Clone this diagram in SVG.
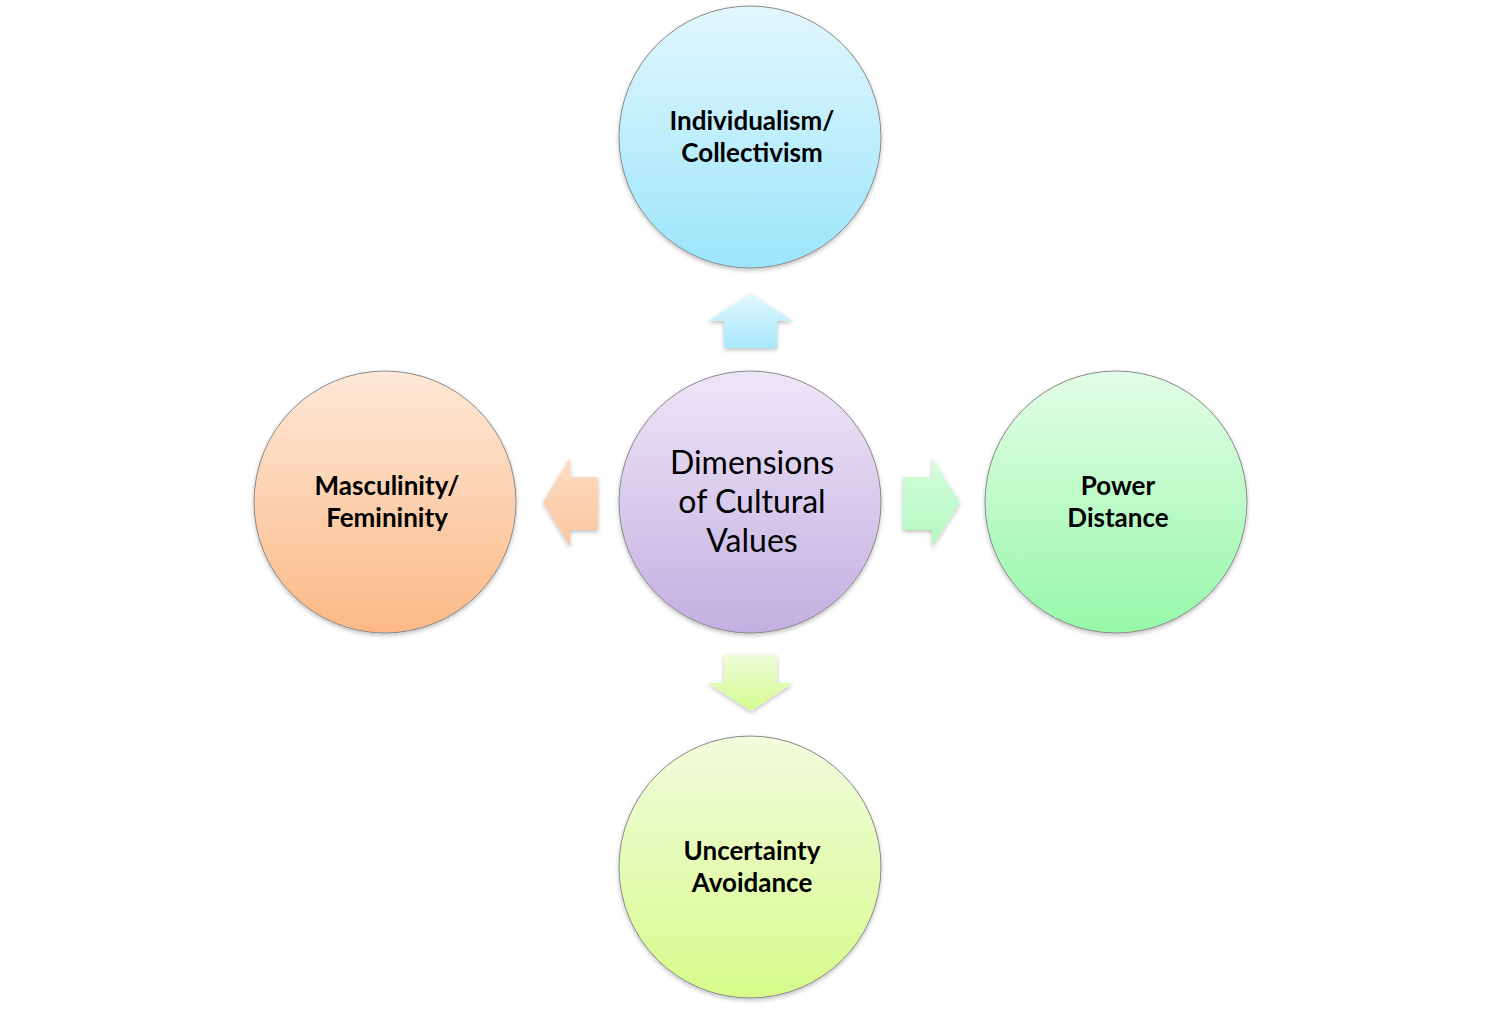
<svg xmlns="http://www.w3.org/2000/svg" width="1502" height="1010" viewBox="0 0 1502 1010">
<defs>
<linearGradient id="gBlue" x1="0" y1="0" x2="0" y2="1"><stop offset="0" stop-color="#e2f7fd"/><stop offset="1" stop-color="#9be5fb"/></linearGradient>
<linearGradient id="gPurple" x1="0" y1="0" x2="0" y2="1"><stop offset="0" stop-color="#ede6f7"/><stop offset="1" stop-color="#c4afe2"/></linearGradient>
<linearGradient id="gOrange" x1="0" y1="0" x2="0" y2="1"><stop offset="0" stop-color="#fee8d8"/><stop offset="1" stop-color="#fbb985"/></linearGradient>
<linearGradient id="gGreen" x1="0" y1="0" x2="0" y2="1"><stop offset="0" stop-color="#e3fde6"/><stop offset="1" stop-color="#96f8a9"/></linearGradient>
<linearGradient id="gLime" x1="0" y1="0" x2="0" y2="1"><stop offset="0" stop-color="#f2fbdd"/><stop offset="1" stop-color="#d6fb8a"/></linearGradient>
<linearGradient id="aBlue" x1="0" y1="0" x2="0" y2="1"><stop offset="0" stop-color="#e4f8fe"/><stop offset="1" stop-color="#a6e8fc"/></linearGradient>
<linearGradient id="aLime" x1="0" y1="0" x2="0" y2="1"><stop offset="0" stop-color="#eefcd8"/><stop offset="1" stop-color="#d4fb8f"/></linearGradient>
<linearGradient id="aGreen" x1="0" y1="0" x2="0" y2="1"><stop offset="0" stop-color="#d4fcdc"/><stop offset="1" stop-color="#b2f9c1"/></linearGradient>
<linearGradient id="aOrange" x1="0" y1="0" x2="0" y2="1"><stop offset="0" stop-color="#fedcc2"/><stop offset="1" stop-color="#fcc69e"/></linearGradient>
<filter id="sh" x="-20%" y="-20%" width="140%" height="140%"><feDropShadow dx="0" dy="2" stdDeviation="2" flood-color="#000" flood-opacity="0.25"/></filter>
</defs>
<style>
.c{stroke:#8a8a8a;stroke-width:1;filter:url(#sh)}
.a{filter:url(#sh)}
.t{font-family:Lato,"Open Sans","Liberation Sans",sans-serif;font-weight:bold;font-size:26px;fill:#000;text-anchor:middle}
.tc{font-family:Lato,"Open Sans","Liberation Sans",sans-serif;font-size:32px;fill:#000;text-anchor:middle}
</style>
<g id="connectors">
<path class="a" fill="url(#aBlue)" d="M751,293 L793,321 L777,321 L777,348 L724,348 L724,321 L708,321 Z"/>
<path class="a" fill="url(#aGreen)" d="M960,502 L932,458 L932,477 L903,477 L903,530 L932,530 L932,547 Z"/>
<path class="a" fill="url(#aOrange)" d="M543,502 L570,458 L570,477 L598,477 L598,530 L570,530 L570,547 Z"/>
<path class="a" fill="url(#aLime)" d="M751,711 L793,683 L777,683 L777,655 L724,655 L724,683 L708,683 Z"/>
</g>
<g id="node-individualism">
<circle class="c" cx="750" cy="137" r="131" fill="url(#gBlue)"/>
<text class="t" x="752" y="130">Individualism/</text>
<text class="t" x="752" y="162">Collectivism</text>
</g>
<g id="node-center">
<circle class="c" cx="750" cy="502" r="131" fill="url(#gPurple)"/>
<text class="tc" x="752" y="474">Dimensions</text>
<text class="tc" x="752" y="513">of Cultural</text>
<text class="tc" x="752" y="552">Values</text>
</g>
<g id="node-masculinity">
<circle class="c" cx="385" cy="502" r="131" fill="url(#gOrange)"/>
<text class="t" x="387" y="495">Masculinity/</text>
<text class="t" x="387" y="527">Femininity</text>
</g>
<g id="node-power">
<circle class="c" cx="1116" cy="502" r="131" fill="url(#gGreen)"/>
<text class="t" x="1118" y="495">Power</text>
<text class="t" x="1118" y="527">Distance</text>
</g>
<g id="node-uncertainty">
<circle class="c" cx="750" cy="867" r="131" fill="url(#gLime)"/>
<text class="t" x="752" y="860">Uncertainty</text>
<text class="t" x="752" y="892">Avoidance</text>
</g>
</svg>
